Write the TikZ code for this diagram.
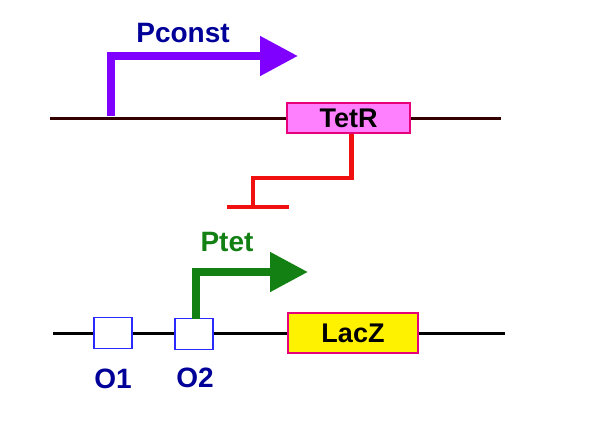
\documentclass[tikz,border=0pt]{standalone}
\usepackage{xcolor}
\usepackage{tikz}
\usepackage{fontspec}
\setmainfont{Liberation Sans}
\usetikzlibrary{arrows.meta, positioning, calc}
\definecolor{dnabrown}{HTML}{330000}
\definecolor{promviolet}{HTML}{8000FF}
\definecolor{promgreen}{HTML}{138013}
\definecolor{labelblue}{HTML}{000099}
\definecolor{genepink}{HTML}{FF80FF}
\definecolor{generim}{HTML}{E6007A}
\definecolor{opblue}{HTML}{2A2AFF}
\definecolor{represred}{HTML}{F01010}
\tikzset{
  dna/.style={line width=3pt},
  prom/.style={-{Triangle[length=38pt, width=38pt]}, line width=8pt},
  repr/.style={line width=4.5pt, represred},
  gene/.style={rectangle, draw=generim, line width=1.2pt, inner sep=0pt, font=\bfseries\fontsize{27}{30}\selectfont},
  opbox/.style={rectangle, draw=opblue, fill=white, line width=1.5pt, minimum width=38pt, minimum height=31pt, inner sep=0pt},
  plabel/.style={font=\bfseries\fontsize{28}{30}\selectfont},
}
\begin{document}
\begin{tikzpicture}[x=1pt, y=-1pt]
  \useasboundingbox (0,0) rectangle (590,442);

  % Upper DNA strand with TetR
  \coordinate (uL) at (50,118);
  \coordinate (uR) at (501,118);
  \draw[dna, dnabrown] (uL) -- (uR);
  \node[gene, fill=genepink, minimum width=123pt, minimum height=30pt] (tetr) at (348.5,118) {TetR};

  % Pconst promoter
  \coordinate (pcbase) at (111,116);
  \coordinate (pctip) at (298,56);
  \draw[prom, promviolet] (pcbase) |- (pctip);
  \node[plabel, text=labelblue] (pclab) at (183,33) {Pconst};

  % Repression of Ptet
  \coordinate (rbend) at (253,178);
  \coordinate (rblock) at (253,207);
  \draw[repr] ([xshift=3pt]tetr.south) |- (rbend) -- (rblock);
  \draw[repr] ([xshift=-26pt]rblock) -- ([xshift=36pt]rblock);

  % Lower DNA strand with operators and LacZ
  \coordinate (lL) at (53,333);
  \coordinate (lR) at (505,333);
  \draw[dna, black] (lL) -- (lR);
  \node[opbox] (op1) at (113,333) {};
  \node[opbox] (op2) at (194,334) {};
  \node[gene, fill=yellow, minimum width=130pt, minimum height=40pt] (lacz) at (353,333) {LacZ};
  \node[plabel, text=labelblue] (op1lab) at (113,379) {O1};
  \node[plabel, text=labelblue] (op2lab) at (195,378) {O2};

  % Ptet promoter
  \coordinate (ptbase) at (196,319);
  \coordinate (pttip) at (308,272);
  \draw[prom, promgreen] (ptbase) |- (pttip);
  \node[plabel, text=promgreen] (ptlab) at (227,242) {Ptet};
\end{tikzpicture}
\end{document}
